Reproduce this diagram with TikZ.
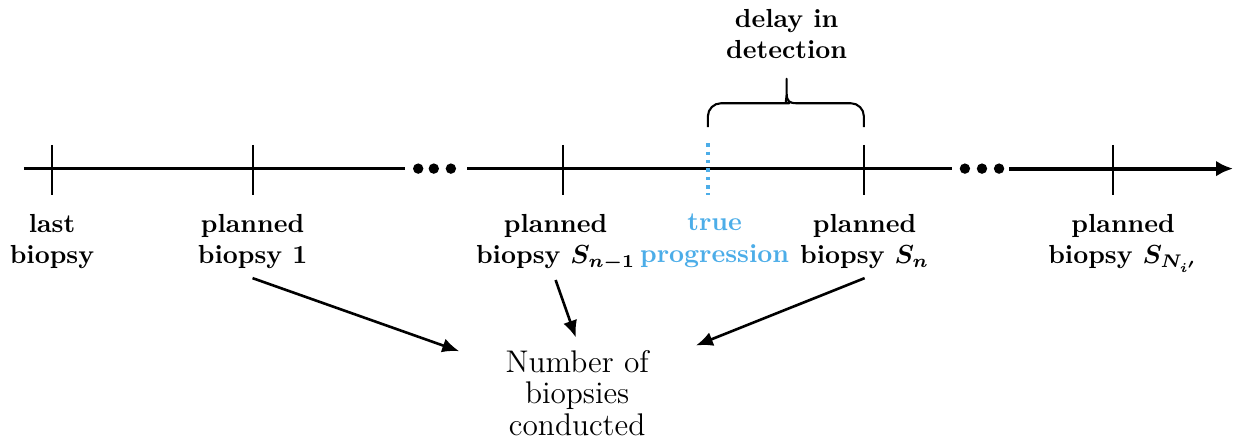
\documentclass[tikz,border=0pt]{standalone}
\usepackage{amsmath}
\usetikzlibrary{arrows.meta}
\definecolor{progblue}{RGB}{76,173,232}

\begin{document}
\begin{tikzpicture}[
    axis/.style={line width=1.3pt},
    tick/.style={line width=0.8pt},
    lbl/.style={anchor=north, align=center, font=\bfseries},
    arr/.style={line width=1pt, -{Latex[length=6.5pt,width=5.5pt]}}]
    \useasboundingbox (0,0) rectangle (16.68,-5.92);
    \draw[axis] (0.32,-2.27) -- (5.45,-2.27);
    \draw[axis] (6.29,-2.27) -- (12.81,-2.27);
    \draw[axis, line width=1.5pt, -{Latex[length=6.5pt,width=6pt]}] (13.59,-2.27) -- (16.60,-2.27);
    \foreach \x in {5.63,5.84,6.07,12.99,13.22,13.45}
        \fill (\x,-2.27) circle (0.07);
    \foreach \x in {0.70,3.41,7.58,11.63,14.98}
        \draw[tick] (\x,-1.95) -- (\x,-2.62);
    \draw[progblue, line width=1.3pt, dash pattern=on 1.3pt off 1.9pt] (9.53,-1.93) -- (9.53,-2.62);
    \coordinate (P) at (9.53,-1.71);
    \coordinate (Q) at (11.63,-1.71);
    \coordinate (T) at (10.59,-1.06);
    % brace over the delay
    \draw[line width=0.8pt, line join=round] (P) [rounded corners=5pt] |- (10.45,-1.39) [sharp corners]
        .. controls (10.55,-1.39) and (10.59,-1.37) .. (10.59,-1.25) -- (T)
        -- (10.59,-1.25) .. controls (10.59,-1.37) and (10.63,-1.39) .. (10.73,-1.39)
        [rounded corners=5pt] -| (Q);
    \node[font=\bfseries, align=center] (delay) at (10.59,-0.46) {delay in\\detection};
    \node[lbl] (last) at (0.70,-2.76) {last\\biopsy};
    \node[lbl] (plan1) at (3.40,-2.76) {planned\\biopsy 1};
    \node[lbl] (planprev) at (7.48,-2.76) {planned\\biopsy $\boldsymbol{S_{n-1}}$};
    \node[lbl, text=progblue] (prog) at (9.62,-2.76) {true\\progression};
    \node[lbl] (plann) at (11.64,-2.76) {planned\\biopsy $\boldsymbol{S_n}$};
    \node[lbl] (planlast) at (15.12,-2.76) {planned\\biopsy $\boldsymbol{S_{N_{i'}}}$};
    \node[align=center, font=\fontsize{12}{12}\selectfont] (count) at (7.77,-5.29) {Number of\\biopsies\\conducted};
    \draw[arr, shorten >=0.53cm] (plan1.south) -- (count);
    \draw[arr, shorten >=1.5pt] (planprev.south) -- (count.north);
    \draw[arr, shorten >=0.55cm] (plann.south) -- (count);
\end{tikzpicture}
\end{document}
